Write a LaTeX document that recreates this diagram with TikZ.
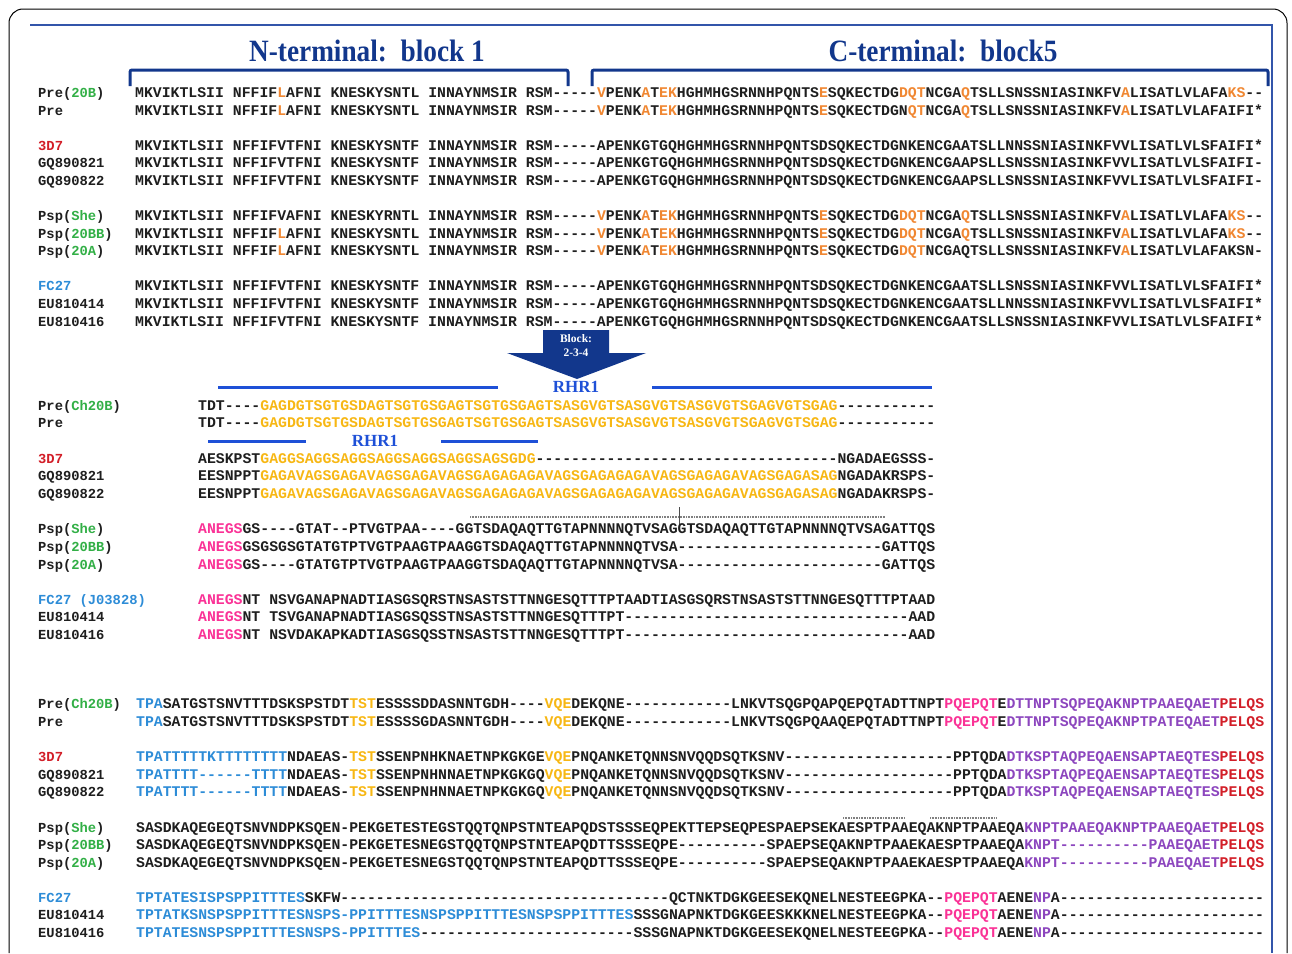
\documentclass[tikz,border=0pt]{standalone}
\usepackage{fontspec}
\setmonofont{Liberation Mono}
\newfontfamily\headfont{Liberation Serif}
\usepackage{xcolor}
\usetikzlibrary{positioning}

\definecolor{seqtext}{RGB}{30,30,30}
\definecolor{seqorange}{RGB}{240,135,50}
\definecolor{seqyellow}{RGB}{247,183,20}
\definecolor{seqpink}{RGB}{250,50,150}
\definecolor{seqpurple}{RGB}{140,70,190}
\definecolor{seqred}{RGB}{210,30,40}
\definecolor{seqblue}{RGB}{45,140,215}
\definecolor{labgreen}{RGB}{50,175,70}
\definecolor{headnavy}{RGB}{18,55,140}
\definecolor{rhrblue}{RGB}{30,80,215}
\definecolor{frameblue}{RGB}{50,85,170}

\newcommand{\seqfont}{\ttfamily\bfseries\fontsize{14.8}{16}\selectfont}
\newcommand{\labfont}{\ttfamily\bfseries\fontsize{13.8}{15}\selectfont}
\newcommand{\cO}[1]{\textcolor{seqorange}{#1}}
\newcommand{\cY}[1]{\textcolor{seqyellow}{#1}}
\newcommand{\cP}[1]{\textcolor{seqpink}{#1}}
\newcommand{\cV}[1]{\textcolor{seqpurple}{#1}}
\newcommand{\cR}[1]{\textcolor{seqred}{#1}}
\newcommand{\cB}[1]{\textcolor{seqblue}{#1}}
\newcommand{\cG}[1]{\textcolor{labgreen}{#1}}
\newcommand{\gaps}[1]{\foreach \g in {1,...,#1}{-}}

\begin{document}
\begin{tikzpicture}[x=1pt,y=-1pt,
    seq/.style={anchor=base west,inner sep=0pt,text=seqtext,font=\seqfont},
    lab/.style={anchor=base west,inner sep=0pt,text=seqtext,font=\labfont},
    head/.style={text=headnavy,font=\headfont\bfseries\fontsize{31}{33}\selectfont},
    rhr/.style={text=rhrblue,font=\headfont\bfseries\fontsize{17}{18}\selectfont},
    blk/.style={text=white,inner sep=1pt,font=\headfont\bfseries\fontsize{11.5}{12}\selectfont},
    rhrline/.style={rhrblue,line width=3pt},
    brace/.style={headnavy,line width=3pt,rounded corners=2pt},
    dots/.style={gray,line width=2pt,dash pattern=on 0.8pt off 0.8pt}]
  \useasboundingbox (0,0) rectangle (1292,953);
  \draw[black,line width=1pt,rounded corners=14pt] (9,953) -- (9,9) -- (1287,9) -- (1287,953);
  \draw[frameblue,line width=1.5pt] (30,25) -- (1272,25) -- (1272,953);

  \node[head] (nterm) at (367,51) {\scalebox{0.88}[1]{N-terminal:~~block 1}};
  \node[head] (cterm) at (943,51) {\scalebox{0.88}[1]{C-terminal:~~block5}};
  \draw[brace] (130,86) -- (130,70) -- (568,70) -- (568,86);
  \draw[brace] (592,86) -- (592,70) -- (1268,70) -- (1268,86);

  % block 1 and block 5
  \node[lab] (lt1) at (38,97) {Pre(\cG{20B})};
  \node[lab] (lt2) at (38,115) {Pre};
  \node[lab] (lt3) at (38,150) {\cR{3D7}};
  \node[lab] (lt4) at (38,167) {GQ890821};
  \node[lab] (lt5) at (38,185) {GQ890822};
  \node[lab] (lt6) at (38,220) {Psp(\cG{She})};
  \node[lab] (lt7) at (38,238) {Psp(\cG{20BB})};
  \node[lab] (lt8) at (38,255) {Psp(\cG{20A})};
  \node[lab] (lt9) at (38,290) {\cB{FC27}};
  \node[lab] (lt10) at (38,308) {EU810414};
  \node[lab] (lt11) at (38,326) {EU810416};

  \node[seq] (t1) at (135,97) {MKVIKTLSII NFFIF\cO{L}AFNI KNESKYSNTL INNAYNMSIR RSM-----\cO{V}PENK\cO{A}T\cO{EK}HGHMHGSRNNHPQNTS\cO{E}SQKECTDG\cO{DQT}NCGA\cO{Q}TSLLSNSSNIASINKFV\cO{A}LISATLVLAFA\cO{KS}--};
  \node[seq] (t2) at (135,115) {MKVIKTLSII NFFIF\cO{L}AFNI KNESKYSNTL INNAYNMSIR RSM-----\cO{V}PENK\cO{A}T\cO{EK}HGHMHGSRNNHPQNTS\cO{E}SQKECTDGN\cO{QT}NCGA\cO{Q}TSLLSNSSNIASINKFV\cO{A}LISATLVLAFAIFI*};
  \node[seq] (t3) at (135,150) {MKVIKTLSII NFFIFVTFNI KNESKYSNTF INNAYNMSIR RSM-----APENKGTGQHGHMHGSRNNHPQNTSDSQKECTDGNKENCGAATSLLNNSSNIASINKFVVLISATLVLSFAIFI*};
  \node[seq] (t4) at (135,167) {MKVIKTLSII NFFIFVTFNI KNESKYSNTF INNAYNMSIR RSM-----APENKGTGQHGHMHGSRNNHPQNTSDSQKECTDGNKENCGAAPSLLSNSSNIASINKFVVLISATLVLSFAIFI-};
  \node[seq] (t5) at (135,185) {MKVIKTLSII NFFIFVTFNI KNESKYSNTF INNAYNMSIR RSM-----APENKGTGQHGHMHGSRNNHPQNTSDSQKECTDGNKENCGAAPSLLSNSSNIASINKFVVLISATLVLSFAIFI-};
  \node[seq] (t6) at (135,220) {MKVIKTLSII NFFIFVAFNI KNESKYRNTL INNAYNMSIR RSM-----\cO{V}PENK\cO{A}T\cO{EK}HGHMHGSRNNHPQNTS\cO{E}SQKECTDG\cO{DQT}NCGA\cO{Q}TSLLSNSSNIASINKFV\cO{A}LISATLVLAFA\cO{KS}--};
  \node[seq] (t7) at (135,238) {MKVIKTLSII NFFIF\cO{L}AFNI KNESKYSNTL INNAYNMSIR RSM-----\cO{V}PENK\cO{A}T\cO{EK}HGHMHGSRNNHPQNTS\cO{E}SQKECTDG\cO{DQT}NCGA\cO{Q}TSLLSNSSNIASINKFV\cO{A}LISATLVLAFA\cO{KS}--};
  \node[seq] (t8) at (135,255) {MKVIKTLSII NFFIF\cO{L}AFNI KNESKYSNTL INNAYNMSIR RSM-----\cO{V}PENK\cO{A}T\cO{EK}HGHMHGSRNNHPQNTS\cO{E}SQKECTDG\cO{DQT}NCGAQTSLLSNSSNIASINKFV\cO{A}LISATLVLAFAKSN-};
  \node[seq] (t9) at (135,290) {MKVIKTLSII NFFIFVTFNI KNESKYSNTF INNAYNMSIR RSM-----APENKGTGQHGHMHGSRNNHPQNTSDSQKECTDGNKENCGAATSLLSNSSNIASINKFVVLISATLVLSFAIFI*};
  \node[seq] (t10) at (135,308) {MKVIKTLSII NFFIFVTFNI KNESKYSNTF INNAYNMSIR RSM-----APENKGTGQHGHMHGSRNNHPQNTSDSQKECTDGNKENCGAATSLLNNSSNIASINKFVVLISATLVLSFAIFI*};
  \node[seq] (t11) at (135,326) {MKVIKTLSII NFFIFVTFNI KNESKYSNTF INNAYNMSIR RSM-----APENKGTGQHGHMHGSRNNHPQNTSDSQKECTDGNKENCGAATSLLSNSSNIASINKFVVLISATLVLSFAIFI*};

  % arrow to blocks 2-3-4
  \fill[headnavy] (543,330) -- (609,330) -- (609,353) -- (646,353) -- (577,379) -- (507,353) -- (543,353) -- cycle;
  \node[blk] (blk1) at (576,339) {Block:};
  \node[blk,below=3pt of blk1] (blk2) {2-3-4};

  \node[rhr] (rhra) at (576,387) {RHR1};
  \draw[rhrline] (218,387) -- (498,387);
  \draw[rhrline] (652,387) -- (932,387);
  \node[rhr] (rhrb) at (375,441) {RHR1};
  \draw[rhrline] (208,441) -- (306,441);
  \draw[rhrline] (441,441) -- (538,441);

  \node[lab] (lm1) at (38,410) {Pre(\cG{Ch20B})};
  \node[lab] (lm2) at (38,427) {Pre};
  \node[lab] (lm3) at (38,463) {\cR{3D7}};
  \node[lab] (lm4) at (38,480) {GQ890821};
  \node[lab] (lm5) at (38,498) {GQ890822};
  \node[lab] (lm6) at (38,533) {Psp(\cG{She})};
  \node[lab] (lm7) at (38,551) {Psp(\cG{20BB})};
  \node[lab] (lm8) at (38,569) {Psp(\cG{20A})};
  \node[lab] (lm9) at (38,604) {\cB{FC27 (J03828)}};
  \node[lab] (lm10) at (38,621) {EU810414};
  \node[lab] (lm11) at (38,639) {EU810416};

  \node[seq] (m1) at (198,410) {TDT----\cY{GAGDGTSGTGSDAGTSGTGSGAGTSGTGSGAGTSASGVGTSASGVGTSASGVGTSGAGVGTSGAG}\gaps{11}};
  \node[seq] (m2) at (198,427) {TDT----\cY{GAGDGTSGTGSDAGTSGTGSGAGTSGTGSGAGTSASGVGTSASGVGTSASGVGTSGAGVGTSGAG}\gaps{11}};
  \node[seq] (m3) at (198,463) {AESKPST\cY{GAGGSAGGSAGGSAGGSAGGSAGGSAGSGDG}\gaps{34}NGADAEGSSS-};
  \node[seq] (m4) at (198,480) {EESNPPT\cY{GAGAVAGSGAGAVAGSGAGAVAGSGAGAGAGAVAGSGAGAGAGAVAGSGAGAGAVAGSGAGASAG}NGADAKRSPS-};
  \node[seq] (m5) at (198,498) {EESNPPT\cY{GAGAVAGSGAGAVAGSGAGAVAGSGAGAGAGAVAGSGAGAGAGAVAGSGAGAGAVAGSGAGASAG}NGADAKRSPS-};
  \draw[dots] (470,517) -- (885,517);
  \draw[black!70,line width=0.8pt] (679,507) -- (679,525);
  \node[seq] (m6) at (198,533) {\cP{ANEGS}GS----GTAT--PTVGTPAA----GGTSDAQAQTTGTAPNNNNQTVSAGGTSDAQAQTTGTAPNNNNQTVSAGATTQS};
  \node[seq] (m7) at (198,551) {\cP{ANEGS}GSGSGSGTATGTPTVGTPAAGTPAAGGTSDAQAQTTGTAPNNNNQTVSA\gaps{23}GATTQS};
  \node[seq] (m8) at (198,569) {\cP{ANEGS}GS----GTATGTPTVGTPAAGTPAAGGTSDAQAQTTGTAPNNNNQTVSA\gaps{23}GATTQS};
  \node[seq] (m9) at (198,604) {\cP{ANEGS}NT NSVGANAPNADTIASGSQRSTNSASTSTTNNGESQTTTPTAADTIASGSQRSTNSASTSTTNNGESQTTTPTAAD};
  \node[seq] (m10) at (198,621) {\cP{ANEGS}NT TSVGANAPNADTIASGSQSSTNSASTSTTNNGESQTTTPT\gaps{32}AAD};
  \node[seq] (m11) at (198,639) {\cP{ANEGS}NT NSVDAKAPKADTIASGSQSSTNSASTSTTNNGESQTTTPT\gaps{32}AAD};

  % C-terminal part of blocks 2-3-4
  \node[lab] (lb1) at (38,708) {Pre(\cG{Ch20B})};
  \node[lab] (lb2) at (38,726) {Pre};
  \node[lab] (lb3) at (38,761) {\cR{3D7}};
  \node[lab] (lb4) at (38,779) {GQ890821};
  \node[lab] (lb5) at (38,796) {GQ890822};
  \node[lab] (lb6) at (38,832) {Psp(\cG{She})};
  \node[lab] (lb7) at (38,849) {Psp(\cG{20BB})};
  \node[lab] (lb8) at (38,867) {Psp(\cG{20A})};
  \node[lab] (lb9) at (38,902) {\cB{FC27}};
  \node[lab] (lb10) at (38,919) {EU810414};
  \node[lab] (lb11) at (38,937) {EU810416};

  \node[seq] (b1) at (136,708) {\cB{TPA}SATGSTSNVTTTDSKSPSTDT\cY{TST}ESSSSDDASNNTGDH----\cY{VQE}DEKQNE\gaps{12}LNKVTSQGPQAPQEPQTADTTNPT\cP{PQEPQT}E\cV{DTTNPTSQPEQAKNPTPAAEQAET}\cR{PELQS}};
  \node[seq] (b2) at (136,726) {\cB{TPA}SATGSTSNVTTTDSKSPSTDT\cY{TST}ESSSSGDASNNTGDH----\cY{VQE}DEKQNE\gaps{12}LNKVTSQGPQAAQEPQTADTTNPT\cP{PQEPQT}E\cV{DTTNPTSQPEQAKNPTPATEQAET}\cR{PELQS}};
  \node[seq] (b3) at (136,761) {\cB{TPATTTTTKTTTTTTTT}NDAEAS-\cY{TST}SSENPNHKNAETNPKGKGE\cY{VQE}PNQANKETQNNSNVQQDSQTKSNV\gaps{19}PPTQDA\cV{DTKSPTAQPEQAENSAPTAEQTES}\cR{PELQS}};
  \node[seq] (b4) at (136,779) {\cB{TPATTTT------TTTT}NDAEAS-\cY{TST}SSENPNHNNAETNPKGKGQ\cY{VQE}PNQANKETQNNSNVQQDSQTKSNV\gaps{19}PPTQDA\cV{DTKSPTAQPEQAENSAPTAEQTES}\cR{PELQS}};
  \node[seq] (b5) at (136,796) {\cB{TPATTTT------TTTT}NDAEAS-\cY{TST}SSENPNHNNAETNPKGKGQ\cY{VQE}PNQANKETQNNSNVQQDSQTKSNV\gaps{19}PPTQDA\cV{DTKSPTAQPEQAENSAPTAEQTES}\cR{PELQS}};
  \draw[dots] (843,818) -- (905,818);
  \draw[dots] (930,818) -- (997,818);
  \node[seq] (b6) at (136,832) {SASDKAQEGEQTSNVNDPKSQEN-PEKGETESTEGSTQQTQNPSTNTEAPQDSTSSSEQPEKTTEPSEQPESPAEPSEKAESPTPAAEQAKNPTPAAEQA\cV{KNPTPAAEQAKNPTPAAEQAET}\cR{PELQS}};
  \node[seq] (b7) at (136,849) {SASDKAQEGEQTSNVNDPKSQEN-PEKGETESNEGSTQQTQNPSTNTEAPQDTTSSSEQPE\gaps{10}SPAEPSEQAKNPTPAAEKAESPTPAAEQA\cV{KNPT\gaps{10}PAAEQAET}\cR{PELQS}};
  \node[seq] (b8) at (136,867) {SASDKAQEGEQTSNVNDPKSQEN-PEKGETESNEGSTQQTQNPSTNTEAPQDTTSSSEQPE\gaps{10}SPAEPSEQAKNPTPAAEKAESPTPAAEQA\cV{KNPT\gaps{10}PAAEQAET}\cR{PELQS}};
  \node[seq] (b9) at (136,902) {\cB{TPTATESISPSPPITTTES}SKFW\gaps{37}QCTNKTDGKGEESEKQNELNESTEEGPKA--\cP{PQEPQT}AENE\cV{NP}A\gaps{23}};
  \node[seq] (b10) at (136,919) {\cB{TPTATKSNSPSPPITTTESNSPS-PPITTTESNSPSPPITTTESNSPSPPITTTES}SSSGNAPNKTDGKGEESKKKNELNESTEEGPKA--\cP{PQEPQT}AENE\cV{NP}A\gaps{23}};
  \node[seq] (b11) at (136,937) {\cB{TPTATESNSPSPPITTTESNSPS-PPITTTES}\gaps{24}SSSGNAPNKTDGKGEESEKQNELNESTEEGPKA--\cP{PQEPQT}AENE\cV{NP}A\gaps{23}};
\end{tikzpicture}
\end{document}
